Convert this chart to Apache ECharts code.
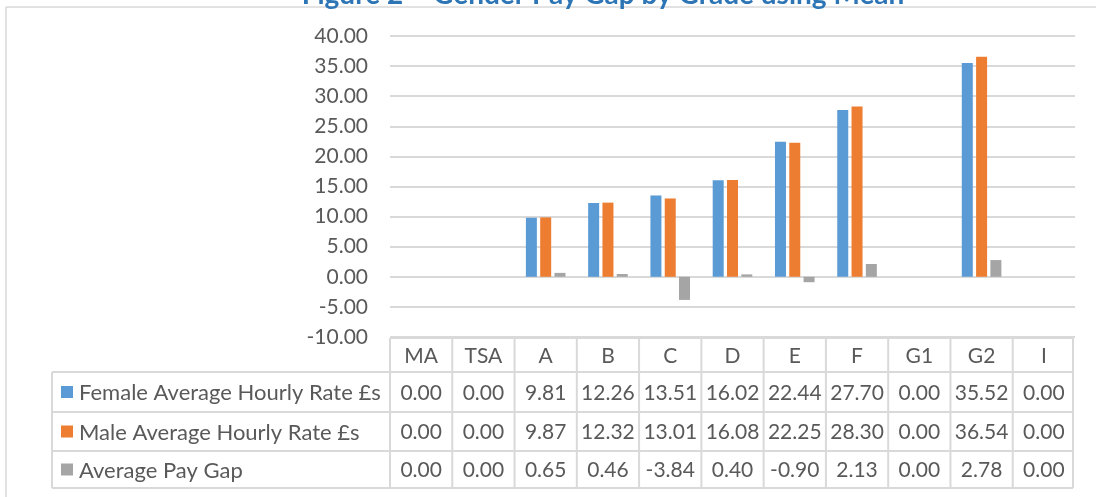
<!DOCTYPE html>
<html>
<head>
<meta charset="utf-8">
<script src="https://cdn.jsdelivr.net/npm/echarts@6/dist/echarts.min.js"></script>
<style>
  html, body { margin: 0; padding: 0; background: #fff; }
  #container { width: 1096px; height: 497px; }
</style>
</head>
<body>
<div id="container"></div>
<script>
var grades = ['MA', 'TSA', 'A', 'B', 'C', 'D', 'E', 'F', 'G1', 'G2', 'I'];
var female = [0.00, 0.00, 9.81, 12.26, 13.51, 16.02, 22.44, 27.70, 0.00, 35.52, 0.00];
var male = [0.00, 0.00, 9.87, 12.32, 13.01, 16.08, 22.25, 28.30, 0.00, 36.54, 0.00];
var payGap = [0.00, 0.00, 0.65, 0.46, -3.84, 0.40, -0.90, 2.13, 0.00, 2.78, 0.00];
var seriesNames = ['Female Average Hourly Rate £s', 'Male Average Hourly Rate £s', 'Average Pay Gap'];
var colors = ['#5B9BD5', '#ED7D31', '#A5A5A5'];

var font = 'Lato';
var fontSize = 21;
var textColor = '#595959';
var lineColor = '#D9D9D9';

var gridLeft = 390, gridRight = 21, gridTop = 36, gridBottom = 160;
var plotW = 1096 - gridLeft - gridRight;
var colW = plotW / grades.length;

var dom = document.getElementById('container');
var myChart = echarts.init(dom);

function bar(name, data, color) {
    return {
        name: name,
        type: 'bar',
        data: data,
        barWidth: 11,
        barGap: '30%',
        itemStyle: { color: color }
    };
}

var option = {
    animation: false,
    textStyle: { fontFamily: font },
    grid: { left: gridLeft, right: gridRight, top: gridTop, bottom: gridBottom },
    xAxis: {
        type: 'category',
        data: grades,
        axisLine: { show: false },
        axisTick: { show: false },
        axisLabel: { show: false }
    },
    yAxis: {
        type: 'value',
        min: -10,
        max: 40,
        interval: 5,
        axisLine: { show: false },
        axisTick: { show: false },
        axisLabel: {
            color: textColor,
            fontSize: fontSize,
            margin: 22,
            formatter: function (v) { return v.toFixed(2); }
        },
        splitLine: { lineStyle: { color: lineColor, width: 2 } }
    },
    series: [
        bar(seriesNames[0], female, colors[0]),
        bar(seriesNames[1], male, colors[1]),
        bar(seriesNames[2], payGap, colors[2])
    ]
};
myChart.setOption(option);

// data table under the plot
var rowEdges = [338, 372, 412, 451, 488];
var tableLeft = 52;
var tableRight = gridLeft + plotW - 2;
var els = [];

function hline(x1, x2, y) {
    els.push({ type: 'line', shape: { x1: x1, y1: y, x2: x2, y2: y }, style: { stroke: lineColor, lineWidth: 2 } });
}
function vline(x, y1, y2) {
    els.push({ type: 'line', shape: { x1: x, y1: y1, x2: x, y2: y2 }, style: { stroke: lineColor, lineWidth: 2 } });
}
function cellText(str, x, y, align, size) {
    els.push({
        type: 'text', x: x, y: y,
        style: { text: str, fill: textColor, font: (size || fontSize) + 'px ' + font, textAlign: align, textVerticalAlign: 'middle' }
    });
}

hline(gridLeft, tableRight, rowEdges[0]);
for (var r = 1; r < rowEdges.length; r++) hline(tableLeft, tableRight, rowEdges[r]);
vline(tableLeft, rowEdges[1], rowEdges[4]);
for (var c = 0; c <= grades.length; c++) {
    var x = c === grades.length ? tableRight : gridLeft + c * colW;
    vline(x, rowEdges[0], rowEdges[4]);
}

var rows = [female, male, payGap];
grades.forEach(function (g, i) {
    var cx = myChart.convertToPixel({ xAxisIndex: 0 }, g);
    cellText(g, cx, (rowEdges[0] + rowEdges[1]) / 2 + 1, 'center');
    rows.forEach(function (vals, k) {
        cellText(vals[i].toFixed(2), cx, (rowEdges[k + 1] + rowEdges[k + 2]) / 2 + 1, 'center');
    });
});
rows.forEach(function (vals, k) {
    var cy = (rowEdges[k + 1] + rowEdges[k + 2]) / 2;
    els.push({ type: 'rect', shape: { x: 61, y: cy - 6, width: 12, height: 12 }, style: { fill: colors[k] } });
    cellText(seriesNames[k], 79, cy + 1, 'left', 22);
});

// outer frame and clipped title
els.push({ type: 'line', shape: { x1: 6, y1: 7, x2: 1096, y2: 7 }, style: { stroke: lineColor, lineWidth: 1.5 } });
els.push({ type: 'line', shape: { x1: 6, y1: 7, x2: 6, y2: 497 }, style: { stroke: lineColor, lineWidth: 1.5 } });
els.push({
    type: 'text', x: 603, y: 9,
    style: { text: 'Figure 2 – Gender Pay Gap by Grade using Mean', fill: '#2E75B6', font: 'bold 28px ' + font, textAlign: 'center', textVerticalAlign: 'bottom' }
});

myChart.setOption({ graphic: { elements: els } });
</script>
</body>
</html>
